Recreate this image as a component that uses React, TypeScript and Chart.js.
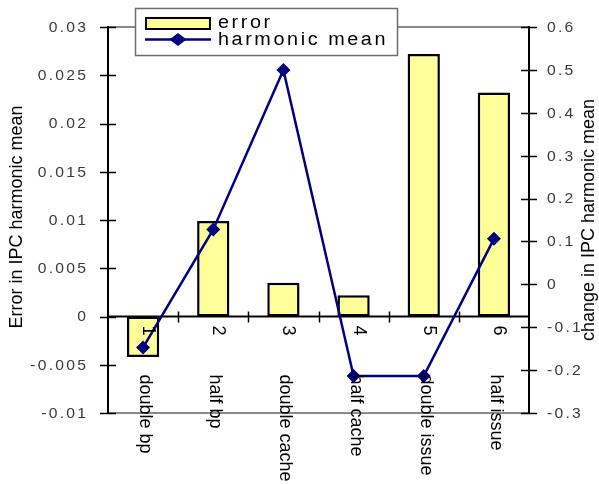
import { useEffect, useRef } from 'react';
import { Chart, registerables } from 'chart.js';

Chart.register(...registerables);

const CATEGORY_NUMBERS = ['1', '2', '3', '4', '5', '6'];
const CATEGORY_NAMES = ['double bp', 'half bp', 'double cache', 'half cache', 'double issue', 'half issue'];
const ERROR_VALUES = [-0.0042, 0.0099, 0.0035, 0.0022, 0.0272, 0.0232];
const HMEAN_CHANGE = [-0.147, 0.128, 0.5, -0.214, -0.214, 0.106];
const LEFT_TICKS = [-0.01, -0.005, 0, 0.005, 0.01, 0.015, 0.02, 0.025, 0.03];
const LEFT_TICK_LABELS = ['-0.01', '-0.005', '0', '0.005', '0.01', '0.015', '0.02', '0.025', '0.03'];
const RIGHT_TICKS = [-0.3, -0.2, -0.1, 0, 0.1, 0.2, 0.3, 0.4, 0.5, 0.6];
const RIGHT_TICK_LABELS = ['-0.3', '-0.2', '-0.1', '0', '0.1', '0.2', '0.3', '0.4', '0.5', '0.6'];
const SERIES_NAMES = ['error', 'harmonic mean'];
const LEFT_TITLE = 'Error in IPC harmonic mean';
const RIGHT_TITLE = 'change in IPC harmonic mean';

const BAR_FILL = '#FFFF99';
const LINE_COLOR = '#000080';
const FONT = '"Liberation Sans", Arial, sans-serif';

function drawStretched(
  ctx: CanvasRenderingContext2D,
  text: string,
  x: number,
  y: number,
  stretch: number,
  spacing: number,
  align: 'left' | 'right'
) {
  ctx.save();
  (ctx as any).letterSpacing = spacing + 'px';
  ctx.textAlign = 'left';
  const w = (ctx.measureText(text).width - spacing) * stretch;
  const sx = align === 'right' ? x - w : x;
  ctx.translate(sx, y);
  ctx.scale(stretch, 1);
  ctx.fillText(text, 0, 0);
  ctx.restore();
}

const decorPlugin = {
  id: 'decor',
  beforeDatasetsDraw(chart: any) {
    const ctx: CanvasRenderingContext2D = chart.ctx;
    const a = chart.chartArea;
    const yS = chart.scales.y;
    const y1S = chart.scales.y1;
    const xS = chart.scales.x;
    ctx.save();
    ctx.strokeStyle = '#8a8a8a';
    ctx.lineWidth = 2;
    ctx.beginPath();
    ctx.moveTo(a.left, a.top);
    ctx.lineTo(a.right, a.top);
    ctx.moveTo(a.left, a.bottom);
    ctx.lineTo(a.right, a.bottom);
    ctx.stroke();
    ctx.strokeStyle = '#000';
    ctx.lineWidth = 2;
    ctx.beginPath();
    ctx.moveTo(a.left, a.top - 1);
    ctx.lineTo(a.left, a.bottom + 1);
    ctx.moveTo(a.right, a.top - 1);
    ctx.lineTo(a.right, a.bottom + 1);
    ctx.stroke();
    ctx.lineWidth = 1.5;
    ctx.beginPath();
    LEFT_TICKS.forEach((v) => {
      const py = Math.round(yS.getPixelForValue(v)) + 0.5;
      ctx.moveTo(a.left - 8, py);
      ctx.lineTo(a.left + 8, py);
    });
    RIGHT_TICKS.forEach((v) => {
      const py = Math.round(y1S.getPixelForValue(v)) + 0.5;
      ctx.moveTo(a.right - 8, py);
      ctx.lineTo(a.right + 8, py);
    });
    ctx.stroke();
    const y0 = yS.getPixelForValue(0);
    ctx.lineWidth = 2;
    ctx.beginPath();
    ctx.moveTo(a.left, y0);
    ctx.lineTo(a.right, y0);
    ctx.stroke();
    const half = (xS.getPixelForValue(1) - xS.getPixelForValue(0)) / 2;
    ctx.lineWidth = 1.5;
    ctx.beginPath();
    for (let i = 1; i < CATEGORY_NUMBERS.length; i++) {
      const bx = Math.round(xS.getPixelForValue(i) - half) + 0.5;
      ctx.moveTo(bx, y0 - 5);
      ctx.lineTo(bx, y0 + 6);
    }
    ctx.stroke();
    ctx.restore();
  },
  afterDatasetsDraw(chart: any) {
    const ctx: CanvasRenderingContext2D = chart.ctx;
    const a = chart.chartArea;
    const yS = chart.scales.y;
    const y1S = chart.scales.y1;
    const xS = chart.scales.x;
    const y0 = yS.getPixelForValue(0);
    ctx.save();
    // category labels (rotated clockwise)
    ctx.fillStyle = '#000';
    ctx.font = '18px ' + FONT;
    ctx.textBaseline = 'middle';
    ctx.textAlign = 'left';
    CATEGORY_NUMBERS.forEach((num, i) => {
      const px = xS.getPixelForValue(i);
      ctx.save();
      ctx.translate(px + 5, y0 + 9);
      ctx.rotate(Math.PI / 2);
      ctx.fillText(num, 0, 0);
      ctx.restore();
      ctx.save();
      ctx.translate(px + 2, y0 + 58);
      ctx.rotate(Math.PI / 2);
      ctx.fillText(CATEGORY_NAMES[i], 0, 0);
      ctx.restore();
    });
    // tick labels
    ctx.fillStyle = '#3a3a3a';
    ctx.font = '14px ' + FONT;
    ctx.textBaseline = 'middle';
    LEFT_TICKS.forEach((v, i) => {
      drawStretched(ctx, LEFT_TICK_LABELS[i], 86, yS.getPixelForValue(v) + 1, 1.12, 2, 'right');
    });
    RIGHT_TICKS.forEach((v, i) => {
      drawStretched(ctx, RIGHT_TICK_LABELS[i], 547, y1S.getPixelForValue(v) + 1, 1.12, 2, 'left');
    });
    // axis titles
    ctx.fillStyle = '#000';
    ctx.font = '18px ' + FONT;
    ctx.textAlign = 'center';
    ctx.textBaseline = 'middle';
    const cy = (a.top + a.bottom) / 2;
    ctx.save();
    ctx.translate(17, cy - 3);
    ctx.rotate(-Math.PI / 2);
    ctx.fillText(LEFT_TITLE, 0, 0);
    ctx.restore();
    ctx.save();
    ctx.translate(589, cy);
    ctx.rotate(-Math.PI / 2);
    ctx.fillText(RIGHT_TITLE, 0, 0);
    ctx.restore();
    // legend
    ctx.fillStyle = '#fff';
    ctx.fillRect(135, 8, 263, 48);
    ctx.strokeStyle = '#6e6e6e';
    ctx.lineWidth = 1.5;
    ctx.strokeRect(135.5, 8.5, 262, 47);
    ctx.fillStyle = BAR_FILL;
    ctx.fillRect(146, 18, 64, 11);
    ctx.strokeStyle = '#000';
    ctx.lineWidth = 2;
    ctx.strokeRect(146, 18, 64, 11);
    ctx.strokeStyle = LINE_COLOR;
    ctx.lineWidth = 2.5;
    ctx.beginPath();
    ctx.moveTo(145, 39.5);
    ctx.lineTo(211, 39.5);
    ctx.stroke();
    ctx.fillStyle = LINE_COLOR;
    ctx.beginPath();
    ctx.moveTo(169.5, 39.5);
    ctx.lineTo(178, 33);
    ctx.lineTo(186.5, 39.5);
    ctx.lineTo(178, 46);
    ctx.closePath();
    ctx.fill();
    ctx.fillStyle = '#000';
    ctx.font = '18px ' + FONT;
    ctx.textBaseline = 'alphabetic';
    drawStretched(ctx, SERIES_NAMES[0], 218, 27.5, 1.1, 2.35, 'left');
    drawStretched(ctx, SERIES_NAMES[1], 218, 45, 1.1, 2.35, 'left');
    ctx.restore();
  },
};

export default function App() {
  const ref = useRef<HTMLCanvasElement | null>(null);
  useEffect(() => {
    if (!ref.current) return;
    const chart = new Chart(ref.current, {
      type: 'bar',
      data: {
        labels: CATEGORY_NUMBERS,
        datasets: [
          {
            type: 'line',
            label: SERIES_NAMES[1],
            data: HMEAN_CHANGE,
            yAxisID: 'y1',
            order: 0,
            borderColor: LINE_COLOR,
            borderWidth: 2.5,
            backgroundColor: LINE_COLOR,
            pointStyle: 'rectRot',
            pointRadius: 7,
            pointBackgroundColor: LINE_COLOR,
            pointBorderColor: LINE_COLOR,
            pointBorderWidth: 0,
            tension: 0,
            fill: false,
            clip: false,
          } as any,
          {
            type: 'bar',
            label: SERIES_NAMES[0],
            data: ERROR_VALUES,
            yAxisID: 'y',
            order: 1,
            backgroundColor: BAR_FILL,
            borderColor: '#000',
            borderWidth: 2.5,
            borderSkipped: false,
            barPercentage: 0.46,
            categoryPercentage: 1,
          } as any,
        ],
      },
      options: {
        animation: false,
        responsive: false,
        events: [],
        layout: { padding: { left: 108, right: 70, top: 27, bottom: 71 } },
        plugins: { legend: { display: false }, tooltip: { enabled: false } },
        scales: {
          x: { display: false, offset: true },
          y: { display: false, min: -0.01, max: 0.03, position: 'left' },
          y1: { display: false, min: -0.3, max: 0.6, position: 'right' },
        },
      },
      plugins: [decorPlugin],
    });
    return () => chart.destroy();
  }, []);
  return (
    <div style={{ position: 'absolute', left: 0, top: 0, width: 599, height: 484, background: '#fff' }}>
      <canvas ref={ref} width={599} height={484} style={{ display: 'block' }} />
    </div>
  );
}
